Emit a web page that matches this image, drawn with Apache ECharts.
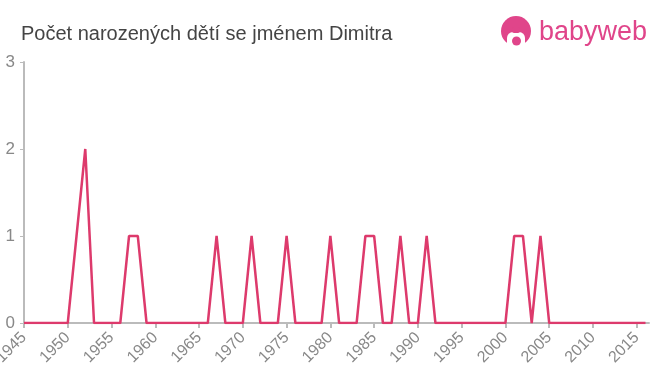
<!DOCTYPE html>
<html>
<head>
<meta charset="utf-8">
<script src="https://cdn.jsdelivr.net/npm/echarts@6/dist/echarts.min.js"></script>
<style>html,body{margin:0;padding:0;background:#fff}#c{width:660px;height:375px}</style>
</head>
<body>
<div id="c"></div>
<script>
const titleText = 'Počet narozených dětí se jménem Dimitra';
const years = [];
for (let y = 1945; y <= 2016; y++) years.push(y);
const nonZero = {1951:1, 1952:2, 1957:1, 1958:1, 1967:1, 1971:1, 1975:1, 1980:1, 1984:1, 1985:1, 1988:1, 1991:1, 2001:1, 2002:1, 2004:1};
const counts = years.map(y => nonZero[y] || 0);
const yTicks = [0, 1, 2, 3];

const chart = echarts.init(document.getElementById('c'), null, {renderer: 'canvas'});
chart.setOption({
  animation: false,
  title: {
    text: titleText, left: 16, top: 19,
    textStyle: {fontFamily: 'Liberation Sans, Arial, sans-serif', fontSize: 20, fontWeight: 'normal', color: '#444'}
  },
  grid: {left: 24, right: 11, top: 62, bottom: 52, containLabel: false, outerBoundsMode: 'none'},
  xAxis: {
    type: 'value', min: 1945, max: 2016.4, interval: 5,
    axisLine: {show: true, lineStyle: {color: '#bbb', width: 2}},
    axisTick: {show: true, length: 5, lineStyle: {color: '#bbb', width: 2}},
    splitLine: {show: false},
    axisLabel: {rotate: 45, color: '#888', fontSize: 16, fontFamily: 'Liberation Sans, Arial, sans-serif', margin: 12, showMaxLabel: false, hideOverlap: false, formatter: v => String(v)}
  },
  yAxis: {
    type: 'value', min: 0, max: 3, interval: 1,
    axisLine: {show: true, lineStyle: {color: '#bbb', width: 2}},
    axisTick: {show: true, length: 4, lineStyle: {color: '#bbb', width: 1}},
    splitLine: {show: false},
    axisLabel: {color: '#888', fontSize: 17, fontFamily: 'Liberation Sans, Arial, sans-serif', margin: 9}
  },
  series: [{
    type: 'line', data: years.map((y, i) => [y, counts[i]]),
    showSymbol: false, symbol: 'none',
    lineStyle: {color: '#dd3a6c', width: 2.5},
    z: 3
  }],
  graphic: [
    {type: 'circle', shape: {cx: 516, cy: 31, r: 15}, style: {fill: '#e0458a'}},
    {type: 'rect', shape: {x: 507, y: 32, width: 18, height: 14, r: [6, 6, 2, 2]}, style: {fill: '#fff'}},
    {type: 'rect', shape: {x: 512, y: 27, width: 8, height: 6, r: 2}, style: {fill: '#e0458a'}},
    {type: 'circle', shape: {cx: 516.5, cy: 41, r: 4.5}, style: {fill: '#e0458a'}},
    {type: 'text', style: {text: 'babyweb', x: 539, y: 33, fill: '#e0458a', fontSize: 27, fontFamily: 'Liberation Sans, Arial, sans-serif', textVerticalAlign: 'middle', verticalAlign: 'middle'}}
  ]
});
</script>
</body>
</html>
